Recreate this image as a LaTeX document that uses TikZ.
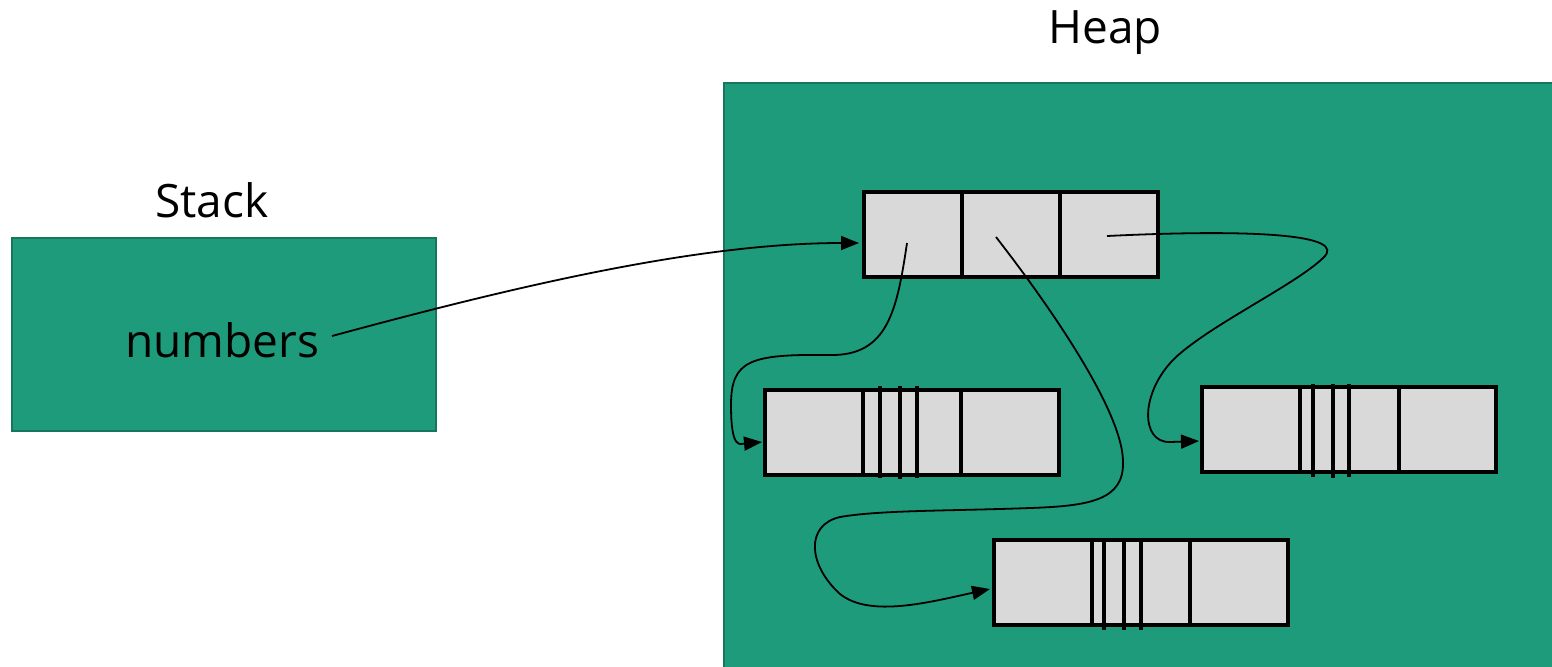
\documentclass[tikz,border=0pt]{standalone}
\usepackage{fontspec}
\setmainfont{Open Sans}
\usetikzlibrary{arrows.meta}
\definecolor{tealfill}{HTML}{1E9B7B}
\definecolor{tealedge}{HTML}{17765E}
\definecolor{cellgray}{HTML}{D9D9D9}
\tikzset{
  region/.style={fill=tealfill,draw=tealedge,line width=0.8pt},
  arr/.style={draw=black,fill=cellgray,line width=2pt,minimum width=147pt,minimum height=42.5pt,inner sep=0pt},
  div/.style={line width=2pt},
  thin div/.style={line width=1.6pt},
  conn/.style={line width=0.9pt,-{Triangle[length=9pt,width=7pt]}},
  lbl/.style={font=\fontsize{23}{27}\selectfont,inner sep=0pt}
}
\begin{document}
\begin{tikzpicture}[x=0.5pt,y=-0.5pt]
\useasboundingbox (0,0) rectangle (1552,666);
% regions
\draw[region] (12,238) rectangle (436,431);
\draw[region] (724,83) rectangle (1560,680);
\node[lbl] (stack) at (212,200) {Stack};
\node[lbl] (heap) at (1105,33) {Heap};
\node[lbl] (numbers) at (222,340) {numbers};
% arrays
\node[arr] (top) at (1011,234.5) {};
\draw[div] (962,192) -- (962,277);
\draw[div] (1060,192) -- (1060,277);

\node[arr] (left) at (911.5,432.5) {};
\draw[thin div] (863,390) -- (863,475);
\draw[thin div] (880,386) -- (880,478);
\draw[thin div] (900,386) -- (900,479);
\draw[thin div] (917,386) -- (917,478);
\draw[div] (961,390) -- (961,475);

\node[arr] (right) at (1349,429.5) {};
\draw[thin div] (1300,387) -- (1300,472);
\draw[thin div] (1313,384) -- (1313,477);
\draw[thin div] (1333,384) -- (1333,478);
\draw[thin div] (1349,384) -- (1349,477);
\draw[div] (1399,387) -- (1399,472);

\node[arr] (bottom) at (1140.5,582.5) {};
\draw[thin div] (1092,540) -- (1092,625);
\draw[thin div] (1104,540) -- (1104,630);
\draw[thin div] (1124,540) -- (1124,630);
\draw[thin div] (1141,540) -- (1141,630);
\draw[div] (1190,540) -- (1190,625);

% connector end points
\coordinate (s0) at (332,336);
\coordinate (t0) at (859,243);
\coordinate (s1) at (907,243);
\coordinate (t1) at (762,442);
\coordinate (s2) at (996,237);
\coordinate (t2) at (990,589);
\coordinate (s3) at (1107,236);
\coordinate (t3) at (1199,441);

\draw[conn] (s0) .. controls (520,285) and (700,243) .. (t0);
\draw[conn] (s1) .. controls (897,310) and (888,356) .. (830,355)
  .. controls (750,354) and (731,360) .. (731,405)
  .. controls (731,450) and (740,444) .. (t1);
\draw[conn] (s2) .. controls (1045,300) and (1123,410) .. (1123,462)
  .. controls (1124,500) and (1090,506) .. (1030,508)
  .. controls (950,511) and (880,510) .. (840,517)
  .. controls (805,525) and (808,565) .. (840,594)
  .. controls (870,618) and (930,602) .. (t2);
\draw[conn] (s3) .. controls (1250,229) and (1350,234) .. (1323,258)
  .. controls (1295,285) and (1210,325) .. (1175,358)
  .. controls (1140,392) and (1140,443) .. (1170,442)
  -- (t3);
\end{tikzpicture}
\end{document}
